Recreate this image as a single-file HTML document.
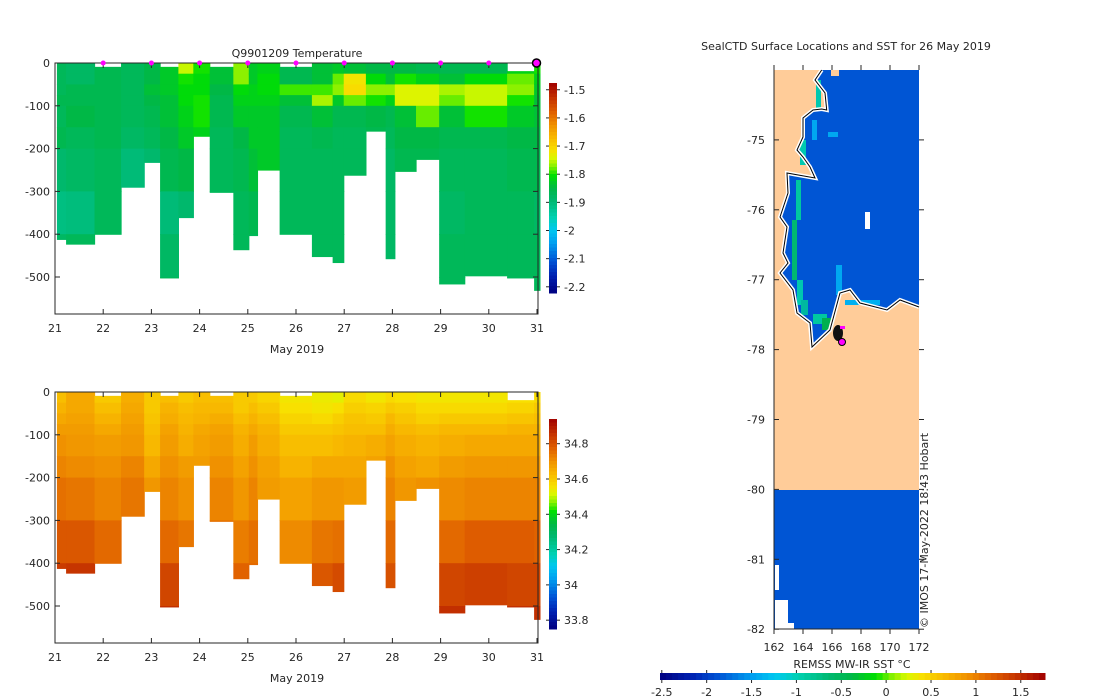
<!DOCTYPE html>
<html><head><meta charset="utf-8"><style>
html,body{margin:0;padding:0;background:#fff;}
svg{display:block;font-family:"DejaVu Sans","Liberation Sans",sans-serif;}
text{fill:#262626;font-size:11px;}
</style></head><body>
<svg id="fig" width="1100" height="700" viewBox="0 0 1100 700"></svg>
<script>
const levels=[0,25,50,75,100,150,200,300,400,500];
const colStart=[21.04,21.23,21.82,22.37,22.85,23.18,23.56,23.87,24.21,24.70,25.02,25.20,25.66,26.33,26.76,26.99,27.45,27.86,28.05,28.49,28.97,29.50,30.38,30.94];
const colEnd=[21.23,21.82,22.37,22.85,23.18,23.56,23.87,24.21,24.70,25.02,25.20,25.66,26.33,26.76,26.99,27.45,27.86,28.05,28.49,28.97,29.50,30.38,30.94,31.06];
const colTop=[0,0,9,0,0,9,0,0,9,0,0,0,9,0,0,0,0,0,0,0,0,0,19,0];
const colMaxDepth=[412,423,400,290,232,502,361,171,302,436,403,250,400,452,466,262,159,457,253,225,516,497,502,531];
const tempProfiles=[
[-1.87,-1.87,-1.87,-1.86,-1.87,-1.86,-1.89,-1.91,-1.88,-1.88],
[-1.88,-1.88,-1.86,-1.86,-1.85,-1.87,-1.88,-1.905,-1.87,-1.87],
[-1.86,-1.86,-1.86,-1.86,-1.86,-1.86,-1.87,-1.87,-1.87,-1.87],
[-1.87,-1.87,-1.87,-1.87,-1.87,-1.88,-1.9,-1.9,-1.9,-1.9],
[-1.85,-1.85,-1.84,-1.85,-1.86,-1.87,-1.89,-1.9,-1.9,-1.9],
[-1.83,-1.83,-1.83,-1.84,-1.84,-1.85,-1.86,-1.9,-1.88,-1.87],
[-1.75,-1.8,-1.81,-1.81,-1.82,-1.83,-1.85,-1.89,-1.87,-1.87],
[-1.8,-1.81,-1.81,-1.8,-1.8,-1.82,-1.83,-1.83,-1.83,-1.83],
[-1.84,-1.84,-1.85,-1.86,-1.86,-1.87,-1.87,-1.87,-1.87,-1.87],
[-1.77,-1.77,-1.81,-1.82,-1.83,-1.85,-1.86,-1.87,-1.87,-1.87],
[-1.83,-1.83,-1.82,-1.82,-1.83,-1.83,-1.84,-1.86,-1.87,-1.87],
[-1.82,-1.81,-1.81,-1.82,-1.83,-1.83,-1.83,-1.85,-1.86,-1.86],
[-1.86,-1.86,-1.79,-1.84,-1.86,-1.87,-1.87,-1.87,-1.87,-1.87],
[-1.84,-1.84,-1.79,-1.76,-1.84,-1.86,-1.87,-1.87,-1.87,-1.87],
[-1.83,-1.78,-1.77,-1.83,-1.86,-1.87,-1.87,-1.87,-1.87,-1.87],
[-1.84,-1.72,-1.71,-1.78,-1.86,-1.87,-1.87,-1.87,-1.87,-1.87],
[-1.85,-1.81,-1.77,-1.8,-1.85,-1.86,-1.86,-1.86,-1.86,-1.86],
[-1.85,-1.84,-1.77,-1.82,-1.86,-1.87,-1.88,-1.88,-1.88,-1.88],
[-1.85,-1.8,-1.74,-1.74,-1.84,-1.85,-1.86,-1.86,-1.86,-1.86],
[-1.86,-1.82,-1.74,-1.74,-1.78,-1.85,-1.86,-1.86,-1.86,-1.86],
[-1.86,-1.84,-1.76,-1.78,-1.84,-1.86,-1.87,-1.88,-1.87,-1.87],
[-1.86,-1.81,-1.75,-1.75,-1.8,-1.86,-1.87,-1.87,-1.87,-1.87],
[-1.82,-1.78,-1.77,-1.8,-1.83,-1.85,-1.86,-1.87,-1.87,-1.87],
[-1.8,-1.82,-1.83,-1.84,-1.84,-1.85,-1.86,-1.88,-1.87,-1.87]];
const salProfiles=[
[34.62,34.64,34.66,34.68,34.7,34.72,34.75,34.79,34.84,34.86],
[34.66,34.66,34.67,34.68,34.69,34.71,34.74,34.79,34.85,34.87],
[34.6,34.62,34.64,34.66,34.68,34.7,34.72,34.76,34.8,34.8],
[34.65,34.66,34.67,34.68,34.69,34.72,34.74,34.76,34.76,34.76],
[34.6,34.6,34.61,34.62,34.63,34.66,34.69,34.72,34.72,34.72],
[34.62,34.64,34.65,34.67,34.68,34.7,34.72,34.76,34.82,34.86],
[34.6,34.62,34.63,34.64,34.65,34.68,34.7,34.74,34.76,34.76],
[34.62,34.63,34.64,34.66,34.67,34.68,34.68,34.68,34.68,34.68],
[34.62,34.63,34.65,34.67,34.68,34.7,34.72,34.75,34.75,34.75],
[34.6,34.6,34.62,34.64,34.65,34.67,34.69,34.73,34.77,34.77],
[34.6,34.62,34.64,34.66,34.68,34.7,34.72,34.75,34.76,34.76],
[34.58,34.6,34.62,34.64,34.65,34.67,34.68,34.68,34.68,34.68],
[34.55,34.56,34.58,34.6,34.62,34.64,34.67,34.71,34.74,34.74],
[34.54,34.55,34.57,34.6,34.62,34.66,34.69,34.74,34.79,34.8],
[34.53,34.56,34.59,34.61,34.63,34.66,34.69,34.75,34.81,34.84],
[34.57,34.59,34.61,34.62,34.64,34.66,34.68,34.68,34.68,34.68],
[34.55,34.58,34.6,34.62,34.65,34.67,34.67,34.67,34.67,34.67],
[34.57,34.6,34.63,34.65,34.67,34.7,34.72,34.76,34.8,34.8],
[34.56,34.59,34.61,34.63,34.65,34.67,34.69,34.7,34.7,34.7],
[34.55,34.57,34.59,34.62,34.64,34.66,34.7,34.7,34.7,34.7],
[34.55,34.57,34.6,34.63,34.65,34.68,34.71,34.76,34.82,34.86],
[34.55,34.57,34.6,34.63,34.66,34.69,34.72,34.78,34.83,34.86],
[34.56,34.58,34.61,34.64,34.66,34.69,34.72,34.78,34.82,34.86],
[34.57,34.6,34.62,34.64,34.66,34.69,34.72,34.77,34.82,34.86]];
const dayTicks=[21,22,23,24,25,26,27,28,29,30,31];
const depthTicks=[0,-100,-200,-300,-400,-500];
const markerDays=[22,23,24,25,26,27,28,29,30];
const tempCbTicks=[-1.5,-1.6,-1.7,-1.8,-1.9,-2,-2.1,-2.2];
const salCbTicks=[34.8,34.6,34.4,34.2,34,33.8];
const latTicks=[-75,-76,-77,-78,-79,-80,-81,-82];
const lonTicks=[162,164,166,168,170,172];
const sstTicks=[-2.5,-2,-1.5,-1,-0.5,0,0.5,1,1.5];

const NS='http://www.w3.org/2000/svg';
const svg=document.getElementById('fig');
function mk(tag,attrs,parent){const e=document.createElementNS(NS,tag);for(const k in attrs)e.setAttribute(k,attrs[k]);(parent||svg).appendChild(e);return e;}
function txt(s,x,y,anchor,parent,extra){const t=mk('text',Object.assign({x:x,y:y,'text-anchor':anchor||'middle'},extra||{}),parent);t.textContent=s;return t;}
const stops=[[0,'#000080'],[0.08,'#0020b0'],[0.15,'#0052d4'],[0.24,'#00a0f0'],[0.30,'#00c8f0'],[0.36,'#00d0b0'],[0.44,'#00b870'],[0.50,'#00b845'],[0.56,'#00e000'],[0.60,'#80f000'],[0.64,'#d8f800'],[0.68,'#f8e000'],[0.74,'#f8b800'],[0.80,'#f09000'],[0.86,'#e06000'],[0.92,'#c83800'],[1,'#a00000']];
function hex(h){return [1,3,5].map(i=>parseInt(h.substr(i,2),16));}
function cmap(p){p=Math.max(0,Math.min(1,p));for(let i=1;i<stops.length;i++){if(p<=stops[i][0]){const a=stops[i-1],b=stops[i];const f=(p-a[0])/(b[0]-a[0]);const ca=hex(a[1]),cb=hex(b[1]);return 'rgb('+ca.map((v,k)=>Math.round(v+(cb[k]-v)*f)).join(',')+')';}}return stops[stops.length-1][1];}
const xDay=d=>55+(d-21)*48.2;
const zScale=0.428;

function section(name,y0,profiles,vmin,vmax,cbTop,cbBot,cbTicks,hasMarkers){
  const g=mk('g',{});
  
  
  const yz=z=>y0+z*zScale;
  for(let c=0;c<colStart.length;c++){
    const cg=mk('g',{},g);
    
    
    for(let i=0;i<levels.length;i++){
      const top=Math.max(levels[i],colTop[c]);
      const bot=Math.min(i+1<levels.length?levels[i+1]:colMaxDepth[c],colMaxDepth[c]);
      if(bot<=top)continue;
      const x1=xDay(colStart[c]),x2=xDay(colEnd[c]);
      const r=mk('rect',{x:x1,y:yz(top),width:x2-x1+0.6,height:yz(bot)-yz(top)+0.6,fill:cmap((profiles[c][i]-vmin)/(vmax-vmin))},cg);
      
      
    }
  }
  const box=mk('rect',{x:55,y:y0,width:483,height:251,fill:'none',stroke:'#262626','stroke-width':1},g);
  
  
  dayTicks.forEach(d=>{const x=xDay(d);mk('line',{x1:x,x2:x,y1:y0+251,y2:y0+246,stroke:'#262626'},g);mk('line',{x1:x,x2:x,y1:y0,y2:y0+5,stroke:'#262626'},g);
    const t=txt(String(d),x,y0+269,'middle',g);});
  const xl=txt('May 2019',297,y0+290,'middle',g);
  
  
  depthTicks.forEach(v=>{const y=yz(-v);mk('line',{x1:55,x2:60,y1:y,y2:y,stroke:'#262626'},g);mk('line',{x1:538,x2:533,y1:y,y2:y,stroke:'#262626'},g);
    const t=txt(String(v),50,y+4,'end',g);});
  const cb=mk('g',{},g);
  
  
  const n=60;
  for(let i=0;i<n;i++){const y=cbTop+(cbBot-cbTop)*i/n;mk('rect',{x:549,y:y,width:8,height:(cbBot-cbTop)/n+0.5,fill:cmap(1-(i+0.5)/n)},cb);}
  cbTicks.forEach(v=>{const y=cbBot-(v-vmin)/(vmax-vmin)*(cbBot-cbTop);mk('line',{x1:546,x2:549,y1:y,y2:y,stroke:'#262626'},cb);mk('line',{x1:557,x2:560,y1:y,y2:y,stroke:'#262626'},cb);
    const t=txt(String(v),564,y+4,'start',cb);});
  if(hasMarkers){
    markerDays.forEach(d=>{const m=mk('circle',{cx:xDay(d),cy:y0,r:2.5,fill:'#ff00ff'},g);});
    const last=mk('circle',{cx:xDay(30.99),cy:y0,r:4,fill:'#ff00ff',stroke:'#000','stroke-width':1.5},g);
    
    
  }
  return g;
}
section('temperature',63,tempProfiles,-2.222,-1.476,83,293,tempCbTicks,true);
section('salinity',392,salProfiles,33.75,34.94,419,629,salCbTicks,false);
const t1=txt('Q9901209  Temperature',297,57,'middle');



// map
const mapG=mk('g',{});


const lonX=l=>774+(l-162)*14.5;
const latY=l=>70+(-74-l)*69.9;
mk('rect',{x:774,y:70,width:145,height:420,fill:'#ffcc99'},mapG);
const coastPts='821.7,70 815,80 825,93 826.7,110 821.7,109 813,110 803,118 803,137 797,150 803,157 810,167 815,178 787,173 788,193 780,217 787,227 783,253 788,263 780,273 793,290 797,313 810,323 812,347 830,330 840,293 850,290 860,303 887,310 900,300 919,307';
const ocean=mk('polygon',{points:coastPts+' 919,70',fill:'#0055d4'},mapG);


mk('rect',{x:831,y:70,width:8,height:6,fill:'#ffcc99'},mapG);
[[816,80,5,30,'#00c8b0'],[812,120,5,20,'#00a8f0'],[800,140,6,25,'#00c8b0'],[796,180,5,40,'#00c8a0'],[792,220,5,60,'#00b870'],[797,280,6,25,'#00c8b0'],[801,300,7,15,'#00b8a0'],[813,314,14,10,'#00c8a0'],[822,318,10,12,'#00b050'],[836,265,6,30,'#00a8f0'],[845,300,35,5,'#00b0f0'],[828,132,10,5,'#00a8f0']].forEach(r=>{mk('rect',{x:r[0],y:r[1],width:r[2],height:r[3],fill:r[4]},mapG);});
mk('rect',{x:865,y:212,width:5,height:17,fill:'#fff'},mapG);
mk('polyline',{points:coastPts,fill:'none',stroke:'#fff','stroke-width':4},mapG);
const coast=mk('polyline',{points:coastPts,fill:'none',stroke:'#000','stroke-width':1},mapG);


mk('rect',{x:774,y:490,width:145,height:139,fill:'#0055d4'},mapG);
mk('rect',{x:775,y:565,width:4,height:25,fill:'#fff'},mapG);
mk('rect',{x:775,y:600,width:13,height:23,fill:'#fff'},mapG);
mk('rect',{x:775,y:623,width:19,height:6,fill:'#fff'},mapG);
mk('ellipse',{cx:838,cy:333,rx:5,ry:8,fill:'#111'},mapG);
const sm=mk('circle',{cx:842,cy:342,r:3.5,fill:'#ff00ff',stroke:'#000','stroke-width':1},mapG);


mk('rect',{x:840,y:326,width:5,height:3,fill:'#ff00ff'},mapG);
mk('line',{x1:774,x2:774,y1:70,y2:629,stroke:'#262626'},mapG);
mk('line',{x1:774,x2:919,y1:629,y2:629,stroke:'#262626'},mapG);
latTicks.forEach(l=>{const y=latY(l);mk('line',{x1:774,x2:779,y1:y,y2:y,stroke:'#262626'},mapG);mk('line',{x1:919,x2:924,y1:y,y2:y,stroke:'#262626'},mapG);
  const t=txt(String(l),765,y+4,'end',mapG);});
lonTicks.forEach(l=>{const x=lonX(l);mk('line',{x1:x,x2:x,y1:629,y2:634,stroke:'#262626'},mapG);mk('line',{x1:x,x2:x,y1:65,y2:70,stroke:'#262626'},mapG);
  const t=txt(String(l),x,651,'middle',mapG);});
const mt=txt('SealCTD Surface Locations and SST for 26 May 2019',846,50,'middle');


const cr=txt('© IMOS 17-May-2022 18:43 Hobart',0,0,'start',null,{transform:'translate(928,628) rotate(-90)','font-size':'10px'});


const sg=mk('g',{});


const smin=-2.52,smax=1.77,sx0=660,sx1=1045;
const N=64;
for(let i=0;i<N;i++){mk('rect',{x:sx0+(sx1-sx0)*i/N,y:673,width:(sx1-sx0)/N+0.5,height:7,fill:cmap((i+0.5)/N)},sg);}
sstTicks.forEach(v=>{const x=sx0+(v-smin)/(smax-smin)*(sx1-sx0);mk('line',{x1:x,x2:x,y1:670,y2:673,stroke:'#262626'},sg);mk('line',{x1:x,x2:x,y1:680,y2:683,stroke:'#262626'},sg);
  const t=txt(String(v),x,696,'middle',sg);});
const st=txt('REMSS MW-IR SST °C',852,668,'middle',sg);


</script>
</body></html>
